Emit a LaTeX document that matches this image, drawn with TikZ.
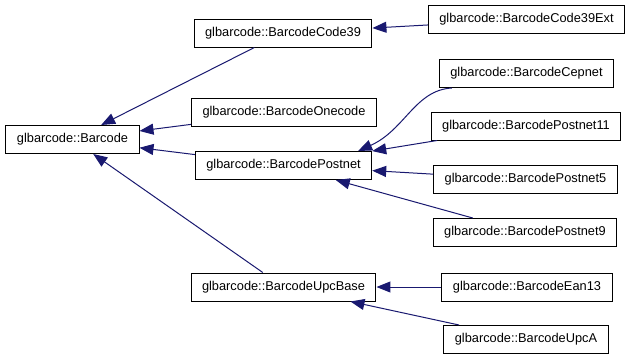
\documentclass[tikz,border=0pt]{standalone}
\usepackage{fontspec}
\setmainfont{Liberation Sans}
\usetikzlibrary{arrows.meta}
\definecolor{edgeblue}{HTML}{191970}

\begin{document}
\begin{tikzpicture}[x=1pt,y=-1pt,
	classbox/.style={draw=black,line width=1pt,fill=white,inner xsep=11pt,
		minimum height=28pt,font=\fontsize{12.8}{15}\selectfont},
	inherit/.style={draw=edgeblue,line width=1pt,
		-{Triangle[length=14pt,width=11pt]}}]
	\useasboundingbox[fill=white] (0,0) rectangle (632,360);

	\node[classbox] (barcode) at (72.5,139.5) {glbarcode::Barcode};

	\node[classbox] (code39) at (283,33) {glbarcode::BarcodeCode39};
	\node[classbox] (onecode) at (284,112.5) {glbarcode::BarcodeOnecode};
	\node[classbox] (postnet) at (283.5,165.5) {glbarcode::BarcodePostnet};
	\node[classbox] (upcbase) at (283.5,287) {glbarcode::BarcodeUpcBase};

	\node[classbox] (code39ext) at (526.5,19.5) {glbarcode::BarcodeCode39Ext};
	\node[classbox] (cepnet) at (526.5,73.5) {glbarcode::BarcodeCepnet};
	\node[classbox] (postnet11) at (526,126) {glbarcode::BarcodePostnet11};
	\node[classbox] (postnet5) at (525.5,179.5) {glbarcode::BarcodePostnet5};
	\node[classbox] (postnet9) at (525,232.5) {glbarcode::BarcodePostnet9};
	\node[classbox] (ean13) at (527,287) {glbarcode::BarcodeEan13};
	\node[classbox] (upca) at (526,339.5) {glbarcode::BarcodeUpcA};

	% derived -> base
	\draw[inherit] (code39) -- (barcode);
	\draw[inherit] (onecode) -- (barcode);
	\draw[inherit] (postnet) -- (barcode);
	\draw[inherit] (upcbase) -- (barcode);
	\draw[inherit] (code39ext) -- (code39);
	\draw[inherit] (cepnet.191) .. controls (415,90) and (405,130) .. (postnet.11);
	\draw[inherit] (postnet11) -- (postnet);
	\draw[inherit] (postnet5) -- (postnet);
	\draw[inherit] (postnet9) -- (postnet);
	\draw[inherit] (ean13) -- (upcbase);
	\draw[inherit] (upca) -- (upcbase);
\end{tikzpicture}
\end{document}
